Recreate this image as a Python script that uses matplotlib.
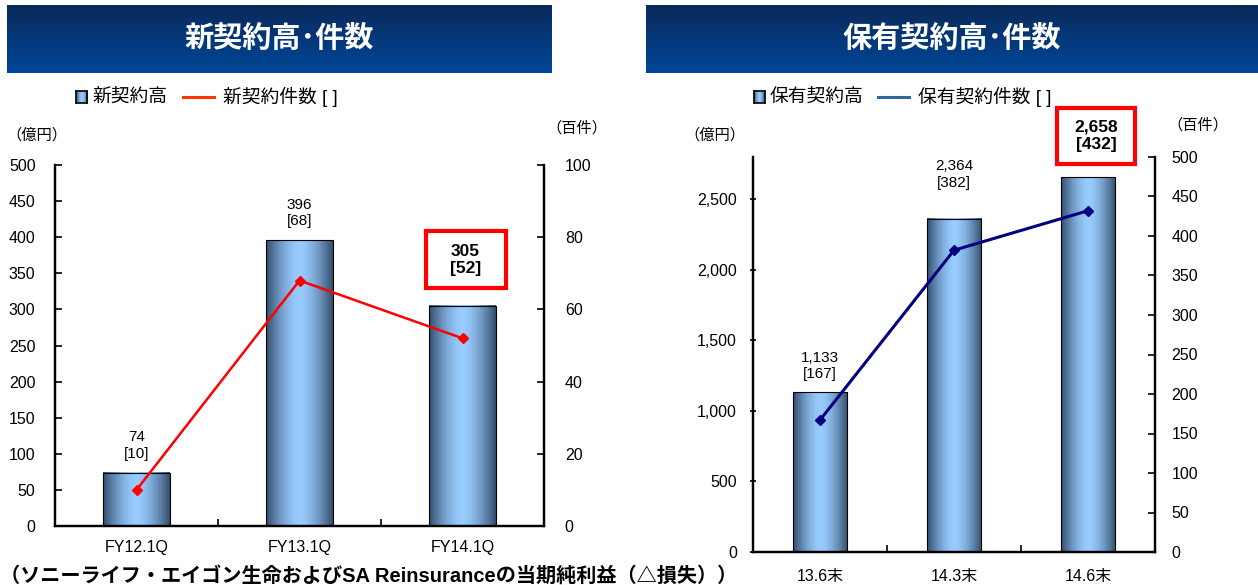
import numpy as np
import matplotlib
matplotlib.use("Agg")
import matplotlib.pyplot as plt
from matplotlib.patches import Rectangle
from matplotlib.lines import Line2D
from matplotlib.transforms import ScaledTranslation

plt.rcParams['font.family'] = ['Liberation Sans', 'Noto Sans CJK JP']

# --- data ---------------------------------------------------------------
new_categories = ['FY12.1Q', 'FY13.1Q', 'FY14.1Q']
new_amount = [74, 396, 305]          # 億円
new_count = [10, 68, 52]             # 百件

held_categories = ['13.6末', '14.3末', '14.6末']
held_amount = [1133, 2364, 2658]     # 億円
held_count = [167, 382, 432]         # 百件

W, H = 1258, 585
fig = plt.figure(figsize=(W / 100, H / 100), dpi=100)


def fig_rect(x0, y0, x1, y1):
    """pixel box (top-left origin) -> figure fraction rect"""
    return [x0 / W, 1 - y1 / H, (x1 - x0) / W, (y1 - y0) / H]


def fpt(x, y):
    return x / W, 1 - y / H


def header(x0, x1, title):
    hax = fig.add_axes(fig_rect(x0, 5, x1, 73))
    top = np.array([0x0a, 0x29, 0x5a]) / 255
    bot = np.array([0x00, 0x47, 0x99]) / 255
    t = np.linspace(0, 1, 64)[:, None]
    grad = top * (1 - t) + bot * t
    hax.imshow(grad[:, None, :].repeat(2, axis=1), aspect='auto',
               extent=[0, 1, 0, 1], origin='upper')
    hax.set_axis_off()
    hax.text(0.5, 0.5, title, color='white', fontsize=21, fontweight='bold',
             ha='center', va='center', transform=hax.transAxes)


def bar_gradient():
    dark = np.array([0x33, 0x4d, 0x6b]) / 255
    light = np.array([0x99, 0xcc, 0xff]) / 255
    u = np.abs(np.linspace(-1, 1, 128)) ** 1.6
    return (light * (1 - u[:, None]) + dark * u[:, None])[None, :, :]


def gradient_bars(ax, heights, width):
    grad = bar_gradient()
    for i, h in enumerate(heights):
        ax.imshow(grad, aspect='auto', extent=[i - width / 2, i + width / 2, 0, h],
                  zorder=2, interpolation='bilinear')
    ax.bar(range(len(heights)), heights, width=width, facecolor='none',
           edgecolor='black', linewidth=0.8, zorder=3)


def style_axes(ax, ax2, cats, pad_x, left_dir, left_pad, right_pad):
    ax.set_xlim(-0.5, len(cats) - 0.5)
    ax.spines['top'].set_visible(False)
    for s in ('left', 'right', 'bottom'):
        ax.spines[s].set_linewidth(1.6)
    ax2.spines['top'].set_visible(False)
    for s in ('left', 'right', 'bottom'):
        ax2.spines[s].set_linewidth(1.6)
    # tick marks between categories, labels at the centres
    ax.set_xticks(np.arange(0.5, len(cats) - 0.5, 1.0))
    ax.set_xticklabels([])
    ax.tick_params(axis='x', which='major', direction='in', length=5, width=1.2)
    ax.set_xticks(range(len(cats)), minor=True)
    ax.set_xticklabels(cats, minor=True)
    ax.tick_params(axis='x', which='minor', length=0, pad=pad_x, labelsize=11.5)
    ax.tick_params(axis='y', direction=left_dir, length=5, width=1.2,
                   labelsize=11.5, pad=left_pad)
    ax2.tick_params(axis='y', direction='in', length=5, width=1.2,
                    labelsize=11.5, pad=right_pad)


def legend(x_sq, bar_label, x_line, line_label, line_color):
    y = 97
    sq = fig.add_axes(fig_rect(x_sq, y - 6, x_sq + 11, y + 6))
    sq.imshow(bar_gradient(), aspect='auto', extent=[0, 1, 0, 1])
    sq.set_xticks([])
    sq.set_yticks([])
    for s in sq.spines.values():
        s.set_linewidth(1.2)
    fig.text(*fpt(x_sq + 16, y), bar_label, fontsize=13.5, va='center', ha='left')
    fig.add_artist(Line2D([x_line / W, (x_line + 31) / W], [1 - y / H, 1 - y / H],
                          color=line_color, linewidth=2.2))
    fig.text(*fpt(x_line + 40, y), line_label, fontsize=13.5, va='center', ha='left')


def boxed_label(ax, i, v, text, dx, dy, bw, bh):
    """bold value label inside a red frame, offset (pixels) from the bar top"""
    ax.annotate(text, xy=(i, v), xytext=(dx * 0.72, dy * 0.72),
                textcoords='offset points', ha='center', va='center',
                fontsize=12.5, fontweight='bold', linespacing=1.2, zorder=6)
    trans = fig.dpi_scale_trans + ScaledTranslation(i, v, ax.transData)
    ax.add_patch(Rectangle(((dx - bw / 2) / 100, (dy - bh / 2) / 100), bw / 100, bh / 100,
                           transform=trans, fill=False, edgecolor='#ff0000',
                           linewidth=3, clip_on=False, zorder=6))


# --- headers ------------------------------------------------------------
header(7, 552, '新契約高･件数')
header(646, 1258, '保有契約高･件数')

# --- left chart: 新契約高・件数 -----------------------------------------
ax = fig.add_axes(fig_rect(55, 165, 544, 526))
ax2 = ax.twinx()
gradient_bars(ax, new_amount, 0.405)
ax.set_ylim(0, 500)
ax.set_yticks(range(0, 501, 50))
ax2.set_ylim(0, 100)
ax2.set_yticks(range(0, 101, 20))
ax2.plot(range(3), new_count, color='#ff0000', linewidth=1.8, marker='D',
         markersize=5, zorder=5)
style_axes(ax, ax2, new_categories, pad_x=10, left_dir='in', left_pad=14, right_pad=15)
ax.set_zorder(ax2.get_zorder() + 1)
ax.patch.set_visible(False)
ax2.set_zorder(ax.get_zorder() + 1)

for i in range(2):
    ax.annotate(f'{new_amount[i]:,}\n[{new_count[i]}]', xy=(i, new_amount[i]),
                xytext=(0, 27 * 0.72), textcoords='offset points',
                ha='center', va='center', fontsize=11, linespacing=1.2)
boxed_label(ax, 2, new_amount[2], f'{new_amount[2]:,}\n[{new_count[2]}]',
            3, 46, 80, 57)

fig.text(*fpt(6, 135), '（億円）', fontsize=11, va='center', ha='left')
fig.text(*fpt(546, 128), '（百件）', fontsize=11, va='center', ha='left')
legend(76, '新契約高', 183, '新契約件数 [ ]', '#ff3300')

# --- right chart: 保有契約高・件数 ---------------------------------------
bx = fig.add_axes(fig_rect(753, 157, 1155, 552))
bx2 = bx.twinx()
gradient_bars(bx, held_amount, 0.41)
bx.set_ylim(0, 2800)
bx.set_yticks(range(0, 2501, 500))
bx.yaxis.set_major_formatter(matplotlib.ticker.FuncFormatter(lambda v, p: f'{int(v):,}'))
bx2.set_ylim(0, 500)
bx2.set_yticks(range(0, 501, 50))
bx2.plot(range(3), held_count, color='#000080', linewidth=2.2, marker='D',
         markersize=5, zorder=5)
style_axes(bx, bx2, held_categories, pad_x=12, left_dir='inout', left_pad=9, right_pad=12)
bx2.set_zorder(bx.get_zorder() + 1)

held_offsets = [26, 44]
for i in range(2):
    bx.annotate(f'{held_amount[i]:,}\n[{held_count[i]}]', xy=(i, held_amount[i]),
                xytext=(0, held_offsets[i] * 0.72), textcoords='offset points',
                ha='center', va='center', fontsize=11, linespacing=1.2)
boxed_label(bx, 2, held_amount[2], f'{held_amount[2]:,}\n[{held_count[2]}]',
            8, 41, 78, 56)

fig.text(*fpt(684, 135), '（億円）', fontsize=11, va='center', ha='left')
fig.text(*fpt(1167, 125), '（百件）', fontsize=11, va='center', ha='left')
legend(754, '保有契約高', 878, '保有契約件数 [ ]', '#336699')

# --- footnote ---------------------------------------------------------
fig.text(*fpt(0, 576), '（ソニーライフ・エイゴン生命およびSA Reinsuranceの当期純利益（△損失））',
         fontsize=14.5, fontweight='bold', va='center', ha='left')

fig.savefig('out.png', dpi=100)
